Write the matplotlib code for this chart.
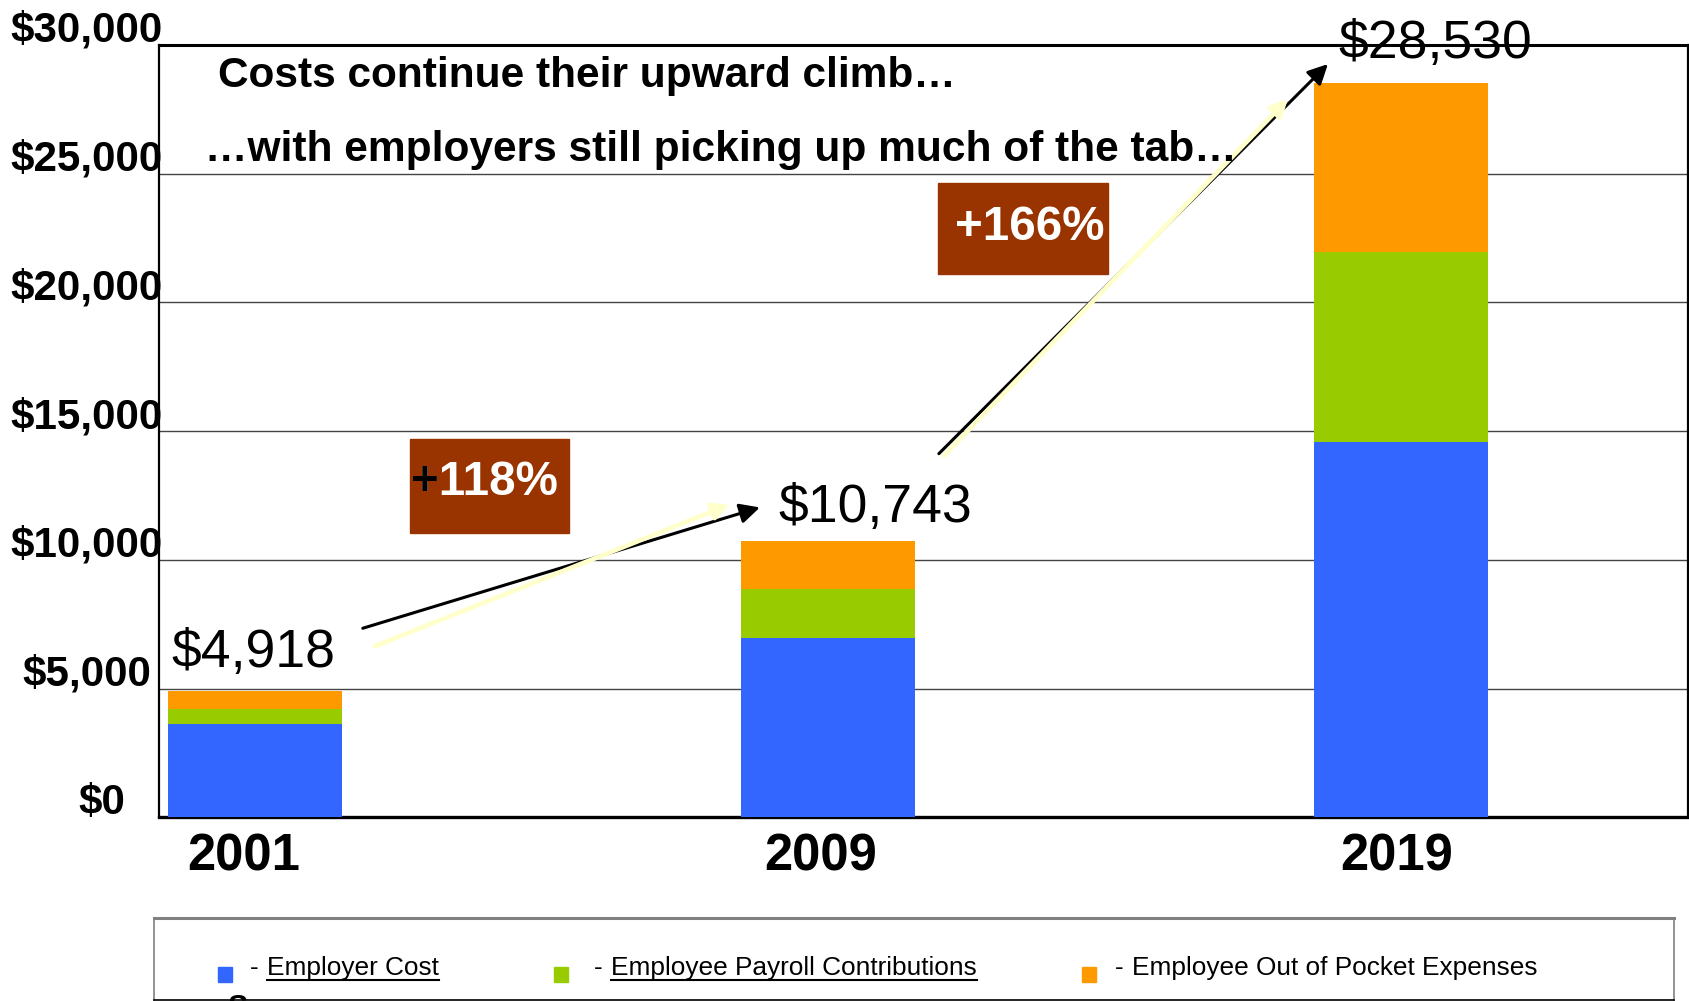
import numpy as np
import matplotlib
matplotlib.use("Agg")
import matplotlib.pyplot as plt
from matplotlib.patches import Rectangle
from matplotlib.lines import Line2D
from matplotlib import transforms as mtransforms

plt.rcParams['font.family'] = ['Liberation Sans', 'DejaVu Sans']

# ---------------- data ----------------
years = ['2001', '2009', '2019']
employer_cost = [3620, 6965, 14590]
payroll_contrib = [570, 1885, 7360]
out_of_pocket = [728, 1893, 6580]
total_labels = ['$4,918', '$10,743', '$28,530']
ytick_values = [0, 5000, 10000, 15000, 20000, 25000, 30000]
ytick_labels = ['$0', '$5,000', '$10,000', '$15,000', '$20,000', '$25,000', '$30,000']
series_names = ['Employer Cost', 'Employee Payroll Contributions',
                'Employee Out of Pocket Expenses']
pct_labels = ['+118%', '+166%']
title_lines = ['Costs continue their upward climb\u2026',
               '\u2026with employers still picking up much of the tab\u2026']

colors = ['#3366FF', '#99CC00', '#FF9900']
BOX = '#993300'
YEL = '#FFFFCC'

W, H = 1690, 1001
fig = plt.figure(figsize=(W / 100, H / 100), dpi=100)


def fx(px):
    return px / W


def fy(py):
    return 1 - py / H


ax = fig.add_axes([fx(159), fy(817.3), (1688 - 159) / W, (817.3 - 45) / H])

x = np.arange(len(years))
bw = 0.3037
emp = np.array(employer_cost)
pay = np.array(payroll_contrib)
oop = np.array(out_of_pocket)
ax.bar(x, emp, bw, color=colors[0], zorder=3)
ax.bar(x, pay, bw, bottom=emp, color=colors[1], zorder=3)
ax.bar(x, oop, bw, bottom=emp + pay, color=colors[2], zorder=3)
totals = emp + pay + oop

ax.set_xlim(-0.168, 2.5)
ax.set_ylim(0, 30000)
ax.set_yticks(ytick_values)
ax.set_yticklabels([])
ax.tick_params(axis='y', length=0)
ax.yaxis.grid(True, color='#444444', lw=1.0, zorder=0)

ax.set_xticks(x)
ax.set_xticklabels([])
ax.tick_params(axis='x', length=0)

for side, lw in [('top', 2.2), ('left', 1.6), ('right', 1.6), ('bottom', 2.4)]:
    ax.spines[side].set_color('black')
    ax.spines[side].set_linewidth(lw)

# year labels (data-x / axes-y), slightly left of bar centres
year_dx = [-12, -7.5, -5]
xbase = mtransforms.blended_transform_factory(ax.transData, ax.transAxes)
for i, yr in enumerate(years):
    tr = xbase + mtransforms.ScaledTranslation(year_dx[i] / 100, -15 / 100,
                                               fig.dpi_scale_trans)
    ax.text(x[i], 0, yr, transform=tr, ha='center', va='top',
            fontsize=36.5, fontweight='bold', clip_on=False)

# y labels (figure-x / data-y)
ytrans = mtransforms.blended_transform_factory(fig.transFigure, ax.transData) + \
    mtransforms.ScaledTranslation(0, 3 / 100, fig.dpi_scale_trans)
for v, lab in zip(ytick_values, ytick_labels):
    xc = 102 if lab == '$0' else 86.5
    ax.text(fx(xc), v, lab, transform=ytrans, ha='center', va='baseline',
            fontsize=30.3, fontweight='bold', clip_on=False)

# total value labels
lab_dx = [-83.5, -50, -63]
lab_dy = [24, 19, 25]
for i, (tot, lab) in enumerate(zip(totals, total_labels)):
    ax.annotate(lab, xy=(x[i], tot), xytext=(lab_dx[i], lab_dy[i]),
                textcoords='offset pixels', ha='left', va='baseline',
                fontsize=38.5, zorder=7)

# titles
fig.text(fx(218), fy(87), title_lines[0], fontsize=30.5, fontweight='bold',
         ha='left', va='baseline')
fig.text(fx(205), fy(161), title_lines[1], fontsize=30.6, fontweight='bold',
         ha='left', va='baseline')

# arrows (black then yellow overlay)
arrows = [((0.1876, 7343), (0.8805, 12037), (0.2086, 6644), (0.828, 12153)),
          ((1.1928, 14125), (1.8717, 29260), (1.2016, 14047), (1.8019, 27903))]
for bs, be, ys, ye in arrows:
    ax.annotate('', xy=be, xytext=bs, zorder=6, annotation_clip=False,
                arrowprops=dict(arrowstyle='-|>,head_length=0.6,head_width=0.3',
                                mutation_scale=20, color='black', lw=2.2,
                                shrinkA=0, shrinkB=0))
    ax.annotate('', xy=ye, xytext=ys, zorder=6, annotation_clip=False,
                arrowprops=dict(arrowstyle='-|>,head_length=0.5,head_width=0.25',
                                mutation_scale=20, color=YEL, lw=3.4,
                                shrinkA=0, shrinkB=0))

# percentage boxes
boxes = [(0.2696, 11028, 0.2774, 3685, 0.2714, 12502),
         (1.191, 21113, 0.297, 3530, 1.2208, 22433)]
for (bx, by, bwid, bh, tx, ty), lab in zip(boxes, pct_labels):
    ax.add_patch(Rectangle((bx, by), bwid, bh, color=BOX, zorder=5, clip_on=False))
    ax.text(tx, ty, lab, color='white', fontsize=34.3, fontweight='bold',
            ha='left', va='baseline', zorder=6)
# black plus sign on the first box
ax.text(boxes[0][4], boxes[0][5], '+', color='black', fontsize=34.3,
        fontweight='bold', ha='left', va='baseline', zorder=7)

# legend frame
fig.add_artist(Line2D([fx(154), fx(1674)], [fy(918), fy(918)], color='#808080', lw=2.2))
fig.add_artist(Line2D([fx(154), fx(154)], [fy(918), fy(1001)], color='#808080', lw=1.2))
fig.add_artist(Line2D([fx(1674), fx(1674)], [fy(918), fy(1001)], color='#808080', lw=1.2))
fig.add_artist(Line2D([fx(154), fx(1674)], [fy(1000), fy(1000)], color='black', lw=1.2))

sq_x = [218, 554, 1082]
dash_x = [250, 594, 1115]
underlined = [True, True, False]
leg_texts = []
for i, name in enumerate(series_names):
    fig.add_artist(Rectangle((fx(sq_x[i]), fy(982)), 14 / W, 15 / H,
                             transform=fig.transFigure, color=colors[i]))
    fig.text(fx(dash_x[i]), fy(975), '-', fontsize=18.9, ha='left', va='baseline')
    t = fig.text(fx(dash_x[i] + 17), fy(975), name, fontsize=18.9,
                 ha='left', va='baseline')
    leg_texts.append(t)

fig.canvas.draw()
renderer = fig.canvas.get_renderer()
for t, ul in zip(leg_texts, underlined):
    if ul:
        bb = t.get_window_extent(renderer)
        fig.add_artist(Line2D([bb.x0 / W, bb.x1 / W], [fy(979.5), fy(979.5)],
                              color='black', lw=1.5))

# partially cut-off text at the bottom
fig.text(fx(227), fy(994), 'S', fontsize=22, fontweight='bold', ha='left', va='top')

fig.savefig('out.png', dpi=100)
